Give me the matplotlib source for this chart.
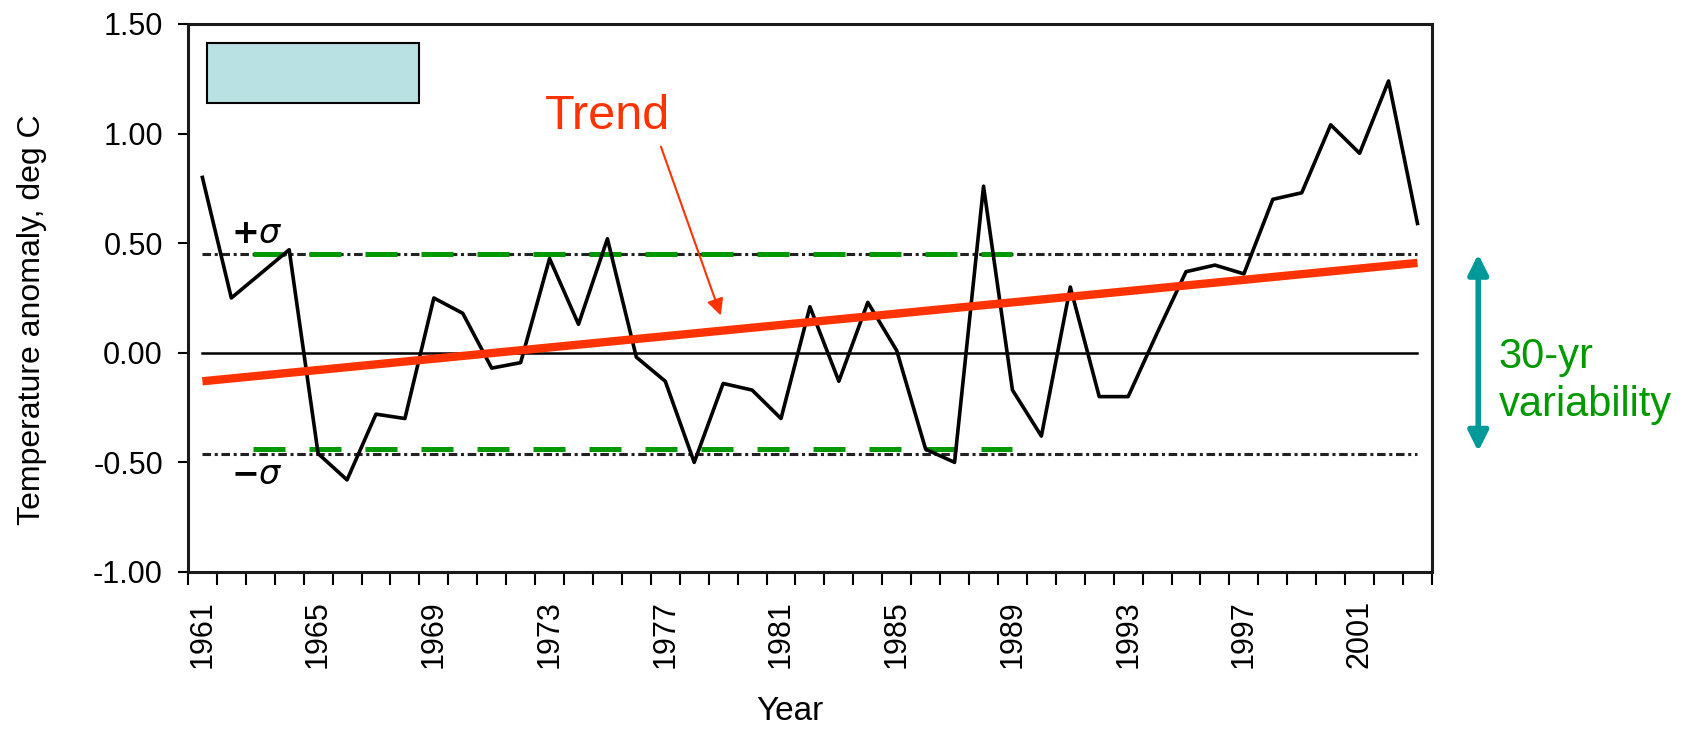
import matplotlib
matplotlib.use("Agg")
import matplotlib.pyplot as plt
from matplotlib.patches import Rectangle

plt.rcParams['font.family'] = ['Liberation Sans', 'DejaVu Sans']

# annual temperature anomaly, deg C
years = list(range(1961, 2004))
anomaly = [0.80, 0.25, 0.36, 0.47, -0.46, -0.58, -0.28, -0.30, 0.25, 0.18,
           -0.07, -0.045, 0.43, 0.13, 0.52, -0.02, -0.13, -0.50, -0.14, -0.17,
           -0.30, 0.21, -0.13, 0.23, 0.01, -0.44, -0.50, 0.76, -0.17, -0.38,
           0.30, -0.20, -0.20, 0.09, 0.37, 0.40, 0.36, 0.70, 0.73, 1.04,
           0.91, 1.24, 0.59]

trend_years = [1961, 2003]
trend_values = [-0.13, 0.41]

sigma_levels = [0.45, -0.46]
green_levels = [0.45, -0.44]
green_span = [1962.75, 1989.0]

xtick_years = [1961, 1965, 1969, 1973, 1977, 1981, 1985, 1989, 1993, 1997, 2001]
ytick_values = [-1.0, -0.5, 0.0, 0.5, 1.0, 1.5]
ytick_labels = ['-1.00', '-0.50', '0.00', '0.50', '1.00', '1.50']

red = '#ff3300'
green = '#009900'
teal = '#009999'

fig = plt.figure(figsize=(16.9, 7.29), dpi=100)
ax = fig.add_axes([0.1112, 0.2154, 0.7361, 0.7517])

# reference lines
ax.plot([years[0], years[-1]], [0, 0], color='black', lw=1.8, zorder=1)
for lev in sigma_levels:
    ax.plot([years[0], years[-1]], [lev, lev], color='#222222', lw=2.2,
            dashes=(2.8, 1.2, 1, 1.2), zorder=2)
for lev in green_levels:
    ax.plot(green_span, [lev, lev], color=green, lw=3.6, dashes=(6.4, 4.8),
            solid_capstyle='butt', dash_capstyle='butt', zorder=3)

# data and trend
ax.plot(years, anomaly, color='black', lw=2.6, zorder=4)
ax.plot(trend_years, trend_values, color=red, lw=6, solid_capstyle='butt', zorder=5)

# empty light-blue box
ax.add_patch(Rectangle((1961.15, 1.14), 7.35, 0.275, facecolor='#b9e0e3',
                       edgecolor='black', lw=1.5, zorder=6))

ax.text(1962.0, 0.50, r'$\mathbf{+}\sigma$', fontsize=24, ha='left', va='baseline')
ax.text(1962.0, -0.60, r'$\mathbf{-}\sigma$', fontsize=24, ha='left', va='baseline')

ax.text(1972.83, 1.02, 'Trend', color=red, fontsize=35, ha='left', va='baseline')
ax.annotate('', xy=(1978.92, 0.17), xytext=(1976.85, 0.94),
            arrowprops=dict(arrowstyle='-|>', color=red, lw=1.5,
                            mutation_scale=25, shrinkA=0, shrinkB=0))

ax.annotate('', xy=(2005.1, 0.45), xytext=(2005.1, -0.45),
            arrowprops=dict(arrowstyle='<|-|>', color=teal, lw=4,
                            mutation_scale=30, shrinkA=0, shrinkB=0),
            annotation_clip=False)
ax.text(2005.8, -0.07, '30-yr', color=green, fontsize=30, ha='left',
        va='baseline', clip_on=False)
ax.text(2005.8, -0.29, 'variability', color=green, fontsize=30, ha='left',
        va='baseline', clip_on=False)

ax.set_xlim(1960.5, 2003.5)
ax.set_ylim(-1.0, 1.5)

ax.set_xticks(xtick_years)
ax.set_xticklabels([str(y) for y in xtick_years], rotation=90, fontsize=22)
ax.set_xticks([y - 0.5 for y in years] + [years[-1] + 0.5], minor=True)
ax.tick_params(axis='x', which='major', length=0, pad=20)
ax.tick_params(axis='x', which='minor', length=9, width=1.5, direction='out')

ax.set_yticks(ytick_values)
ax.set_yticklabels(ytick_labels, fontsize=22)
ax.tick_params(axis='y', length=7, width=1.5, direction='out', pad=11)

for s in ax.spines.values():
    s.set_linewidth(2.2)
    s.set_color('#1a1a1a')

ax.set_ylabel('Temperature anomaly, deg C', fontsize=23, va='center')
ax.yaxis.set_label_coords(-0.125, 0.46)
ax.set_xlabel('Year', fontsize=24, va='center')
ax.xaxis.set_label_coords(0.484, -0.254)

fig.savefig('out.png', dpi=100)
